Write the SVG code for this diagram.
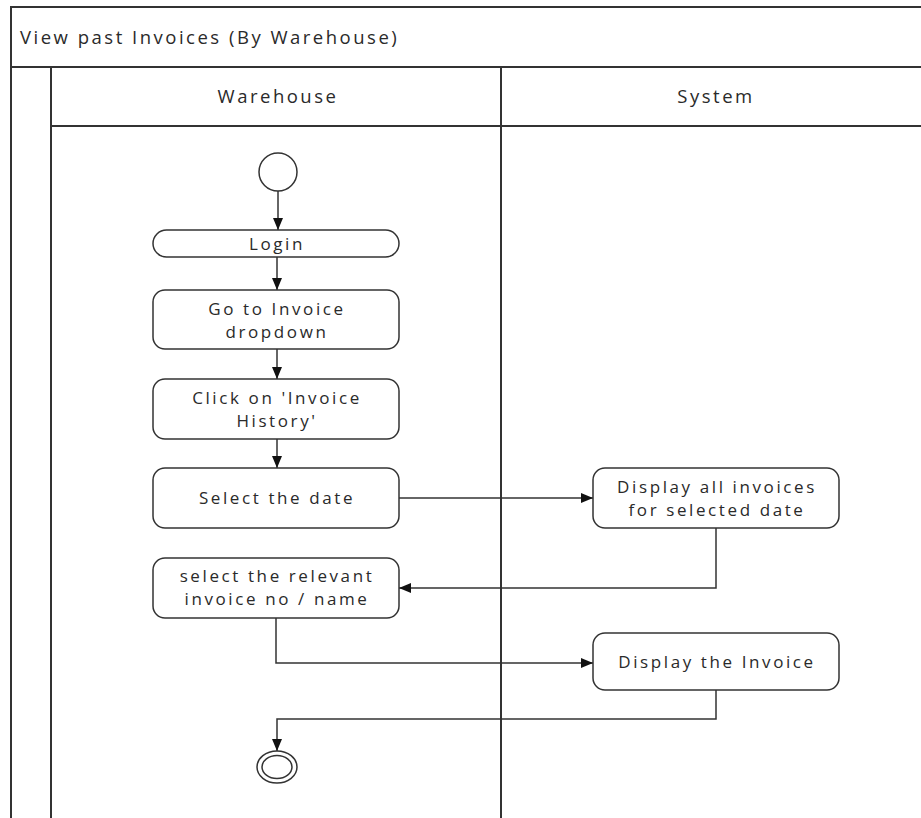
<svg xmlns="http://www.w3.org/2000/svg" width="921" height="818" viewBox="0 0 921 818">
  <defs>
    <marker id="arrow" viewBox="0 0 12 10" refX="12" refY="5" markerWidth="12" markerHeight="10" markerUnits="userSpaceOnUse" orient="auto">
      <path d="M0,0 L12,5 L0,10 Z" fill="#111"/>
    </marker>
    <style>
      .frame { stroke: #333; stroke-width: 2; fill: none; }
      .node { fill: #fff; stroke: #333; stroke-width: 1.5; }
      .edge { fill: none; stroke: #333; stroke-width: 1.5; marker-end: url(#arrow); }
      .label { font-family: "Open Sans", "Liberation Sans", sans-serif; font-size: 17px; fill: #2a2a2a; text-anchor: middle; letter-spacing: 2.6px; }
      .head { font-size: 18.5px; letter-spacing: 2.5px; }
      .title { text-anchor: start; }
    </style>
  </defs>

  <rect width="921" height="818" fill="#fff"/>

  <!-- swimlane pool -->
  <g id="pool">
    <line class="frame" x1="11" y1="7" x2="921" y2="7"/>
    <line class="frame" x1="11" y1="6" x2="11" y2="818"/>
    <line class="frame" x1="11" y1="67" x2="921" y2="67"/>
    <line class="frame" x1="51" y1="67" x2="51" y2="818"/>
    <line class="frame" x1="51" y1="126" x2="921" y2="126"/>
    <line class="frame" x1="501" y1="67" x2="501" y2="818"/>
    <text class="label head title" x="20" y="44">View past Invoices (By Warehouse)</text>
    <text class="label head" x="278" y="103">Warehouse</text>
    <text class="label head" x="716" y="103">System</text>
  </g>

  <!-- connectors -->
  <g id="connectors">
    <path class="edge" d="M278,191 L278,230"/>
    <path class="edge" d="M277,257 L277,290"/>
    <path class="edge" d="M277,349 L277,379"/>
    <path class="edge" d="M277,439 L277,468"/>
    <path class="edge" d="M399,498 L593,498"/>
    <path class="edge" d="M716,528 L716,588 L399,588"/>
    <path class="edge" d="M276,618 L276,663 L593,663"/>
    <path class="edge" d="M716,690 L716,719 L277,719 L277,751"/>
  </g>

  <g id="start">
    <circle class="node" cx="278" cy="172" r="19"/>
  </g>

  <g id="login">
    <rect class="node" x="153" y="230" width="246" height="27" rx="13.5"/>
    <text class="label" x="277" y="250">Login</text>
  </g>

  <g id="goto-invoice">
    <rect class="node" x="153" y="290" width="246" height="59" rx="12"/>
    <text class="label" x="277" y="315">Go to Invoice</text>
    <text class="label" x="277" y="338">dropdown</text>
  </g>

  <g id="invoice-history">
    <rect class="node" x="153" y="379" width="246" height="60" rx="12"/>
    <text class="label" x="277" y="404">Click on 'Invoice</text>
    <text class="label" x="277" y="427">History'</text>
  </g>

  <g id="select-date">
    <rect class="node" x="153" y="468" width="246" height="60" rx="12"/>
    <text class="label" x="277" y="504">Select the date</text>
  </g>

  <g id="select-invoice">
    <rect class="node" x="153" y="558" width="246" height="60" rx="12"/>
    <text class="label" x="277" y="582">select the relevant</text>
    <text class="label" x="277" y="605">invoice no / name</text>
  </g>

  <g id="display-all">
    <rect class="node" x="593" y="468" width="246" height="60" rx="12"/>
    <text class="label" x="717" y="493">Display all invoices</text>
    <text class="label" x="717" y="516">for selected date</text>
  </g>

  <g id="display-invoice">
    <rect class="node" x="593" y="633" width="246" height="57" rx="12"/>
    <text class="label" x="717" y="668">Display the Invoice</text>
  </g>

  <g id="end">
    <ellipse class="node" cx="277" cy="767" rx="20" ry="16"/>
    <ellipse class="node" cx="277" cy="767" rx="15" ry="11.5"/>
  </g>
</svg>
